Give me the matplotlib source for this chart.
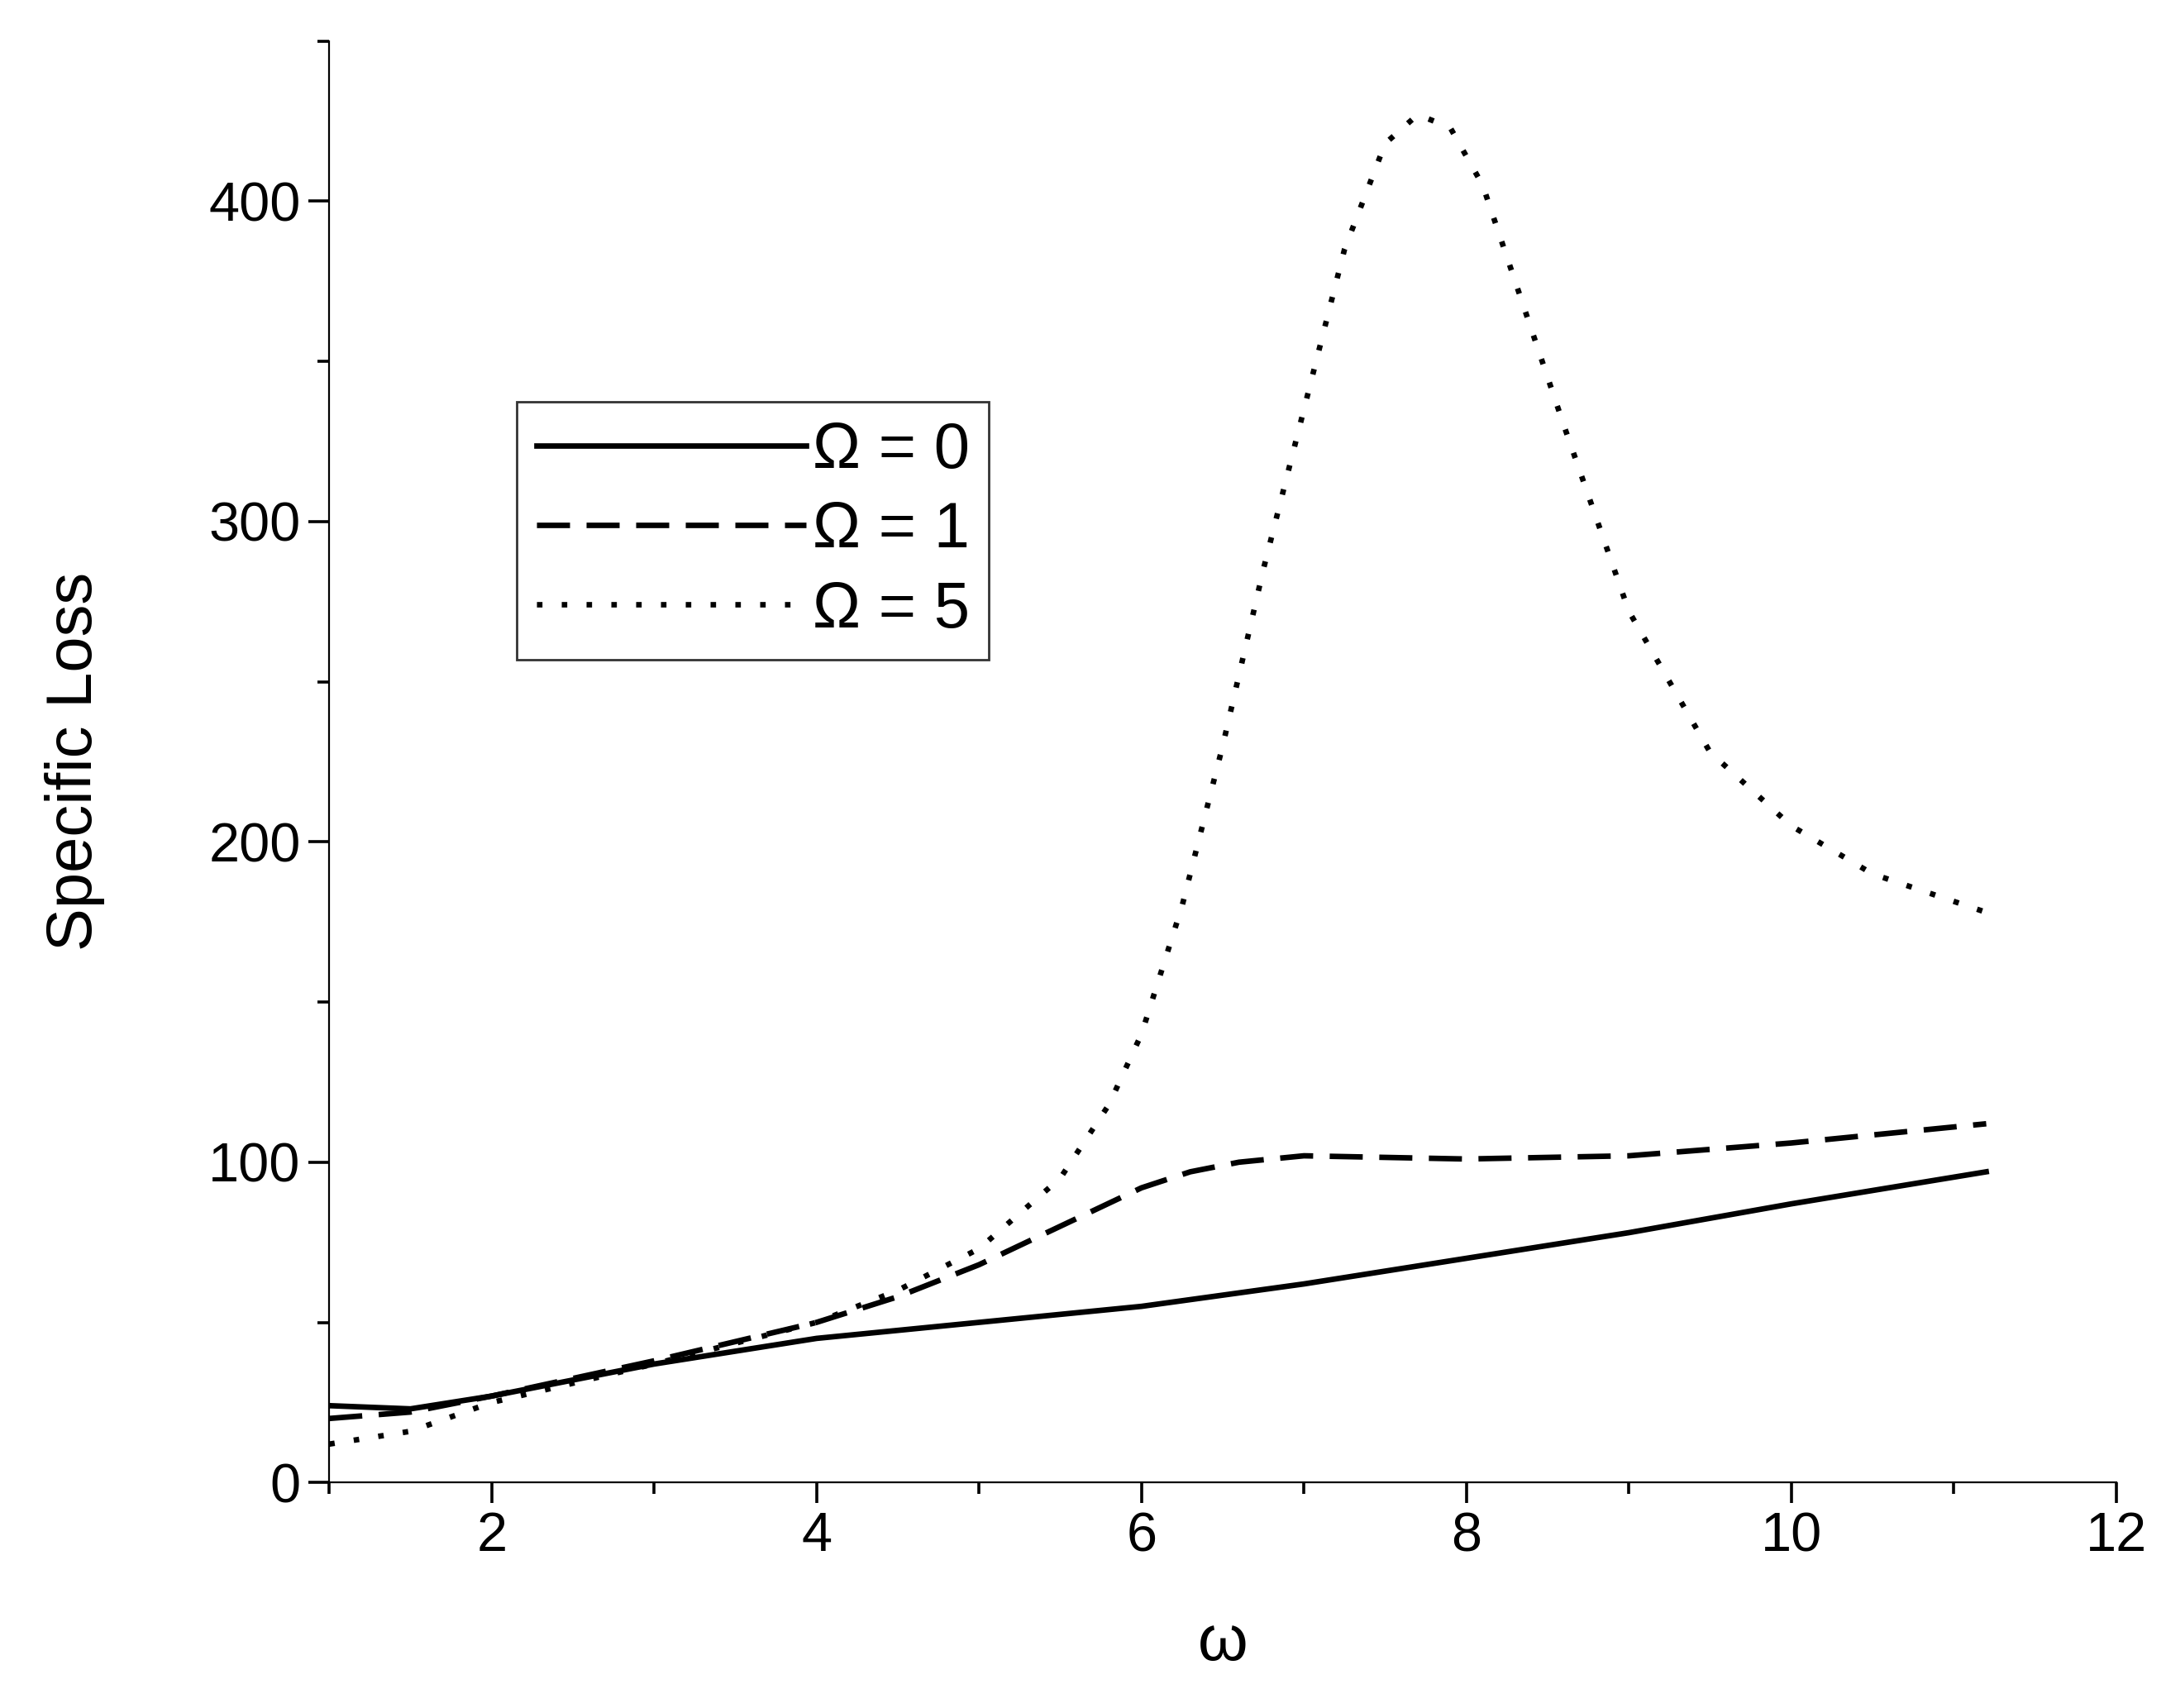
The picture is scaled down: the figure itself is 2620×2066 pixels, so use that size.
import matplotlib
matplotlib.use("Agg")
import matplotlib.pyplot as plt
from matplotlib.ticker import MultipleLocator

plt.rcParams.update({"font.family": ["Liberation Sans", "DejaVu Sans"], "font.size": 24})

x0 = [1, 1.5, 2, 3, 4, 5, 6, 7, 8, 9, 10, 11.2]
y0 = [24, 23, 27, 37, 45, 50, 55, 62, 70, 78, 87, 97]
x1 = [1, 1.5, 2, 3, 4, 4.5, 5, 5.5, 6, 6.3, 6.6, 7, 8, 9, 10, 11.2]
y1 = [20, 22, 27, 38, 50, 58, 68, 80, 92, 97, 100, 102, 101, 102, 106, 112]
x5 = [1, 1.5, 2, 3, 4, 4.5, 5, 5.5, 5.8, 6, 6.25, 6.5, 6.75, 7, 7.25, 7.5, 7.7, 7.9, 8.1, 8.3,
      8.6, 9, 9.5, 10, 10.5, 11.2]
y5 = [12, 16, 25, 37, 50, 60, 73, 95, 118, 140, 180, 230, 285, 335, 385, 418, 427, 423, 405, 375,
      330, 272, 228, 205, 190, 178]

fig = plt.figure(figsize=(13.1, 10.33), dpi=200)
ax = fig.add_axes([0.152, 0.132, 0.825, 0.844])
ax.plot(x0, y0, "k-", lw=2.4, label="Ω = 0")
ax.plot(x1, y1, "k--", lw=2.4, dashes=(6, 3), label="Ω = 1")
ax.plot(x5, y5, "k-", lw=2.4, dashes=(1, 3.5), label="Ω = 5")
ax.set_xlim(1, 12)
ax.set_ylim(0, 450)
ax.xaxis.set_major_locator(MultipleLocator(2))
ax.xaxis.set_minor_locator(MultipleLocator(1))
ax.yaxis.set_major_locator(MultipleLocator(100))
ax.yaxis.set_minor_locator(MultipleLocator(50))
ax.tick_params(which="major", length=9, width=1.3, labelsize=24)
ax.tick_params(which="minor", length=5, width=1.3)
ax.spines["top"].set_visible(False)
ax.spines["right"].set_visible(False)
ax.set_xlabel("ω", fontsize=28, labelpad=22)
ax.set_ylabel("Specific Loss", fontsize=28, labelpad=45)
leg = ax.legend(loc="upper left", bbox_to_anchor=(0.105, 0.75), fontsize=28,
                fancybox=False, edgecolor="black", handlelength=4.2, handletextpad=0.1,
                borderpad=0.3, labelspacing=0.3, borderaxespad=0)
leg.get_frame().set_linewidth(1.0)
fig.savefig("out.png", dpi=200)
